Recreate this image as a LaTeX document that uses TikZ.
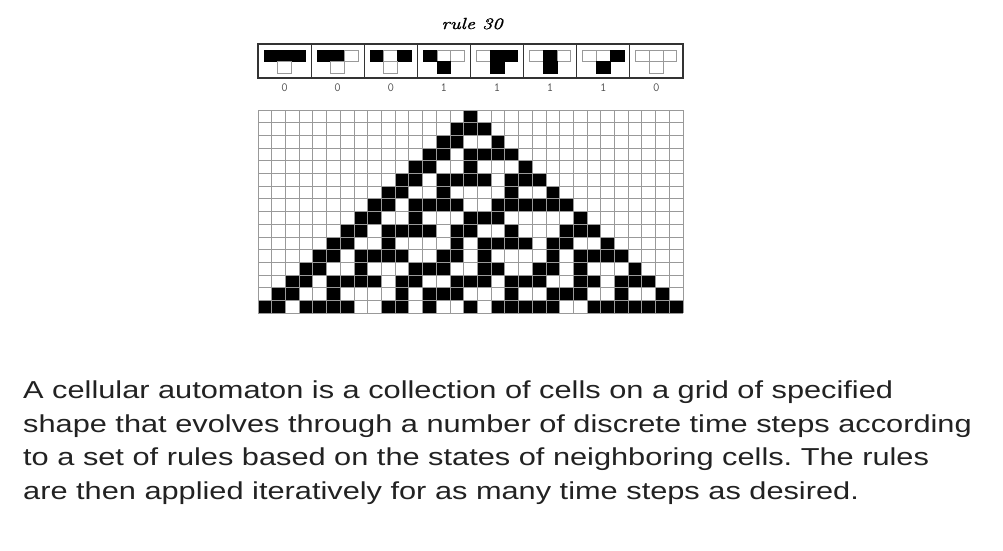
\documentclass[tikz,border=0pt]{standalone}
\usepackage{fontspec}
\newfontfamily\bodyfont[FakeStretch=1.255]{Liberation Sans}
\newfontfamily\titlefont[FakeStretch=1.25,FakeBold=1.2]{lmroman10-italic.otf}
\definecolor{gridgray}{gray}{0.6}
\definecolor{textgray}{HTML}{222222}
\tikzset{
  cell0/.style={fill=white, draw=gridgray, line width=1pt},
  cell1/.style={fill=black, draw=black, line width=0.6pt},
  rulebox/.style={draw=black!80, line width=1.2pt},
  gridline/.style={draw=gridgray, line width=0.8pt},
  outdigit/.style={font=\ttfamily\fontsize{12.5}{12.5}\selectfont, text=black!70},
}

\begin{document}
\frenchspacing
\begin{tikzpicture}[x=1pt,y=-1pt]
  \useasboundingbox (0,0) rectangle (1003,550);

  \node[font=\titlefont\fontsize{16}{16}\selectfont, anchor=base] (title) at (472,29) {rule 30};

  % the eight neighbourhoods of rule 30
  \draw[rulebox] (258,44) rectangle (683,78);
  \foreach \i in {1,...,7}
    \draw[rulebox] ({258+53.125*\i},44) -- ++(0,34);
  \foreach \a/\b/\c/\o [count=\i from 0] in
      {1/1/1/0, 1/1/0/0, 1/0/1/0, 1/0/0/1, 0/1/1/1, 0/1/0/1, 0/0/1/1, 0/0/0/0} {
    \pgfmathsetmacro\cx{284.56+53.125*\i}
    \foreach \bit [count=\k from -1] in {\a,\b,\c}
      \draw[cell\bit] ({\cx+13.7*\k-6.85},50) rectangle ++(13.7,11.5);
    \draw[cell\o] ({\cx-6.85},61.5) rectangle ++(13.7,12);
    \node[outdigit] (out\i) at (\cx,88) {\o};
  }

  % evolution from a single black cell
  \foreach \bits [count=\r from 0] in {
      {1},
      {1,1,1},
      {1,1,0,0,1},
      {1,1,0,1,1,1,1},
      {1,1,0,0,1,0,0,0,1},
      {1,1,0,1,1,1,1,0,1,1,1},
      {1,1,0,0,1,0,0,0,0,1,0,0,1},
      {1,1,0,1,1,1,1,0,0,1,1,1,1,1,1},
      {1,1,0,0,1,0,0,0,1,1,1,0,0,0,0,0,1},
      {1,1,0,1,1,1,1,0,1,1,0,0,1,0,0,0,1,1,1},
      {1,1,0,0,1,0,0,0,0,1,0,1,1,1,1,0,1,1,0,0,1},
      {1,1,0,1,1,1,1,0,0,1,1,0,1,0,0,0,0,1,0,1,1,1,1},
      {1,1,0,0,1,0,0,0,1,1,1,0,0,1,1,0,0,1,1,0,1,0,0,0,1},
      {1,1,0,1,1,1,1,0,1,1,0,0,1,1,1,0,1,1,1,0,0,1,1,0,1,1,1},
      {1,1,0,0,1,0,0,0,0,1,0,1,1,1,0,0,0,1,0,0,1,1,1,0,0,1,0,0,1},
      {1,1,0,1,1,1,1,0,0,1,1,0,1,0,0,1,0,1,1,1,1,1,0,0,1,1,1,1,1,1,1}} {
    \foreach \bit [count=\k from 0] in \bits {
      \ifnum\bit=1
        \fill ({258+13.71*(15-\r+\k)},{110+12.69*\r}) rectangle ++(13.71,12.69);
      \fi
    }
  }
  \foreach \c in {0,...,31}
    \draw[gridline] ({258+13.71*\c},110) -- ++(0,203);
  \foreach \r in {0,...,16}
    \draw[gridline] (258,{110+12.69*\r}) -- ++(425,0);

  \node[anchor=north west, align=left, inner sep=0, text=textgray,
        font=\bodyfont\fontsize{24.5}{33.5}\selectfont] (caption) at (23,381)
    {A cellular automaton is a collection of cells on a grid of specified\\
     shape that evolves through a number of discrete time steps according\\
     to a set of rules based on the states of neighboring cells. The rules\\
     are then applied iteratively for as many time steps as desired.};
\end{tikzpicture}
\end{document}
